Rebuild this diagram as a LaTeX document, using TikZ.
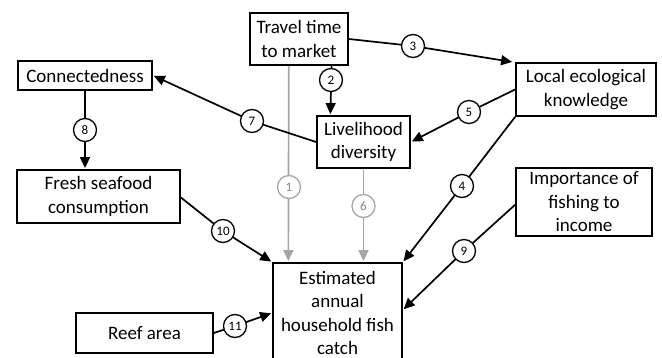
\documentclass[tikz,border=0pt]{standalone}
\usepackage{fontspec}
\setmainfont{Carlito}
\usetikzlibrary{arrows.meta,calc}
\definecolor{lgray}{HTML}{A6A6A6}
\tikzset{
  box/.style={draw=black, line width=1.8pt, fill=white, align=center, inner sep=2pt,
    font=\fontsize{19}{23.5}\selectfont},
  arr/.style={line width=1.7pt, -{Triangle[length=11pt,width=10pt]}, shorten >=1pt},
  garr/.style={arr, draw=lgray, color=lgray},
  circ/.style={circle, draw=black, fill=white, line width=1.3pt, minimum size=23pt,
    inner sep=0pt, font=\fontsize{13}{13}\selectfont},
  gcirc/.style={circ, draw=lgray, text=lgray!80!black}
}
\begin{document}
\begin{tikzpicture}[x=1pt,y=-1pt]
\useasboundingbox (0,0) rectangle (662,358);
\fill[white] (0,0) rectangle (662,358);
% boxes
\node[box, minimum width=98pt, minimum height=52pt] (travel) at (299,39) {Travel time\\to market};
\node[box, minimum width=134pt, minimum height=29pt] (conn) at (85,75.5) {Connectedness};
\node[box, minimum width=140pt, minimum height=53pt] (lek) at (586,89.5) {Local ecological\\knowledge};
\node[box, minimum width=93pt, minimum height=52pt] (liv) at (363.5,142) {Livelihood\\diversity};
\node[box, minimum width=136pt, minimum height=68pt] (imp) at (584,202) {Importance of\\fishing to\\income};
\node[box, minimum width=163pt, minimum height=53pt] (fresh) at (98.5,196.5) {Fresh seafood\\consumption};
\node[box, minimum width=129pt, minimum height=100pt] (est) at (337.5,313) {Estimated\\annual\\household fish\\catch};
\node[box, minimum width=137pt, minimum height=40pt] (reef) at (144.5,333) {Reef area};
% label positions
\coordinate (k1) at (289,187);
\coordinate (k2) at (331,80);
\coordinate (k3) at (413,46);
\coordinate (k4) at (462,186);
\coordinate (k5) at (469,112);
\coordinate (k6) at (363.5,206);
\coordinate (k7) at (252,121);
\coordinate (k8) at (85,130);
\coordinate (k9) at (464,251);
\coordinate (k10) at (223,231);
\coordinate (k11) at (235,326);
% connectors
\draw[garr] ($(travel.south west)!0.398!(travel.south east)$) -- ($(est.north west)!0.124!(est.north east)$);
\draw[garr] (liv.south) -- (liv.south |- est.north);
\draw[arr] ($(travel.south west)!0.827!(travel.south east)$) -- ($(liv.north west)!0.15!(liv.north east)$);
\draw[arr] (travel.east) -- (k3) -- ($(lek.north west)+(-2,0)$);
\draw[arr] (lek.south west) -- (k4) -- (est.north east);
\draw[arr] (lek.west) -- (k5) -- (liv.east);
\draw[arr] (liv.west) -- (k7) -- (conn.east);
\draw[arr] (conn.south) -- (conn.south |- fresh.north);
\draw[arr] ($(imp.north west)!0.54!(imp.south west)$) -- (k9) -- ($(est.north east)!0.47!(est.south east)$);
\draw[arr] ($(fresh.east)+(0,1)$) -- (k10) -- (est.north west);
\draw[arr] (reef.east) -- (k11) -- ($(est.north west)!0.5!(est.south west)$);
% labels
\node[gcirc] (c1) at (k1) {1};
\node[circ] (c2) at (k2) {2};
\node[circ] (c3) at (k3) {3};
\node[circ] (c4) at (k4) {4};
\node[circ] (c5) at (k5) {5};
\node[gcirc] (c6) at (k6) {6};
\node[circ] (c7) at (k7) {7};
\node[circ] (c8) at (k8) {8};
\node[circ] (c9) at (k9) {9};
\node[circ] (c10) at (k10) {10};
\node[circ] (c11) at (k11) {11};
\end{tikzpicture}
\end{document}
